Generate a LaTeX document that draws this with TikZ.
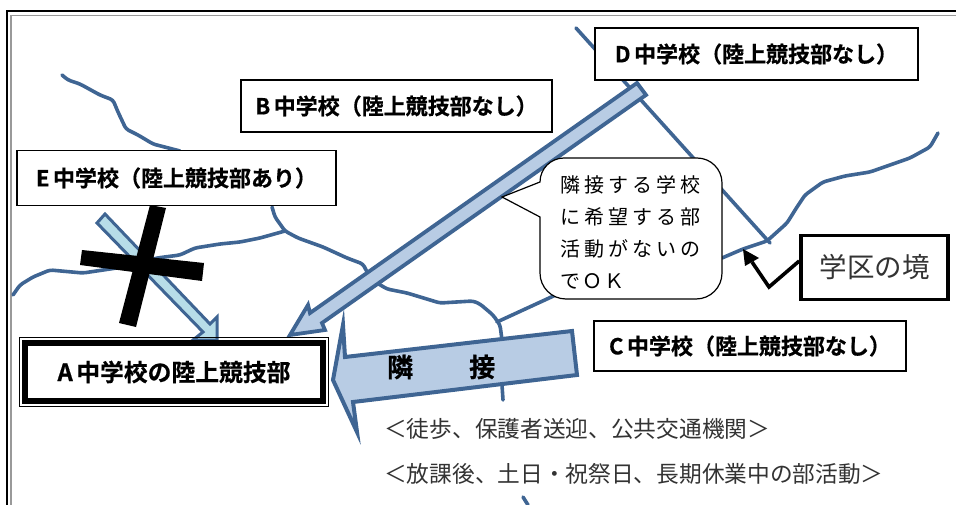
\documentclass[tikz,border=0pt]{standalone}
\usepackage{fontspec}
\setmainfont{Noto Sans CJK JP}[BoldFont={Noto Sans CJK JP Bold}]
\newfontfamily\heavyfont{Noto Sans CJK JP Bold}[FakeBold=0.6]
\definecolor{riverblue}{HTML}{3F6593}
\definecolor{arrowfill}{HTML}{B8CCE4}
\definecolor{thinfill}{HTML}{B7DDE8}
\newcommand{\latingap}{\hspace{3.5pt}}
\tikzset{
  river/.style={draw=riverblue, line width=3.6pt, line join=round, line cap=round, rounded corners=3pt},
  blockarrow/.style={draw=riverblue, line width=3.8pt, fill=arrowfill, line join=miter},
  schoolbox/.style={draw=black, line width=1.4pt, fill=white, inner sep=0pt, font=\heavyfont\fontsize{22}{24}\selectfont},
  crossbar/.style={fill=black, draw=none},
  plainline/.style={font=\fontsize{22.7}{26}\selectfont, text=black!80, anchor=west, inner sep=0pt},
  calloutline/.style={anchor=west, inner sep=0pt, font=\fontsize{20}{24}\selectfont\addfontfeature{LetterSpace=20}}
}
\begin{document}
\begin{tikzpicture}[x=1pt,y=-1pt]
\useasboundingbox (0,0) rectangle (956,505);

% Draw the outer frame
\draw[black, line width=1.3pt] (956,11) -- (7,11) -- (7,505);
\draw[black!40, line width=1.4pt] (956,15.5) -- (11,15.5) -- (11,505);

% Draw the rivers and the boundaries
\draw[river] (62,75) -- (68,80) -- (80,84) -- (100,95) -- (113,100) -- (118,112) -- (126,129) -- (138,135) -- (153,144) -- (180,151);
\draw[river] (272,207) -- (275,217) -- (285,231) -- (298,238) -- (323,247) -- (347,258) -- (363,264) -- (367,272) -- (377,283) -- (387,289) -- (407,293) -- (440,303) -- (473,301) -- (480,304) -- (493,315) -- (500,325) -- (502,340);
\draw[river] (502,385) -- (503,400);
\draw[river] (523,497) -- (528,505);
\draw[river] (285,231) -- (260,238) -- (240,242) -- (220,244) -- (195,248) -- (180,255) -- (157,258) -- (130,266) -- (83,273) -- (50,270) -- (33,277) -- (20,285) -- (13,295);
\draw[river] (497,322) -- (560,293);
\draw[river] (722,258) -- (743,249) -- (767,241) -- (787,223) -- (797,207) -- (805,195) -- (823,182) -- (845,176) -- (870,172) -- (890,165) -- (910,158) -- (930,147) -- (938,133);
\draw[river, rounded corners=0pt] (576,28) -- (770,243);

% Draw the block arrows
\draw[blockarrow, line width=3pt, fill=thinfill] (97,223) -- (105,214) -- (210,324) -- (217,317) -- (217,340) -- (193,340) -- (203,332) -- cycle;
\draw[blockarrow] (637,83) -- (646,95) -- (322,323) -- (325,330) -- (290,335) -- (308,305) -- (310,313) -- cycle;
\draw[blockarrow, line width=4pt] (572,331) -- (577,375) -- (353,402) -- (357,432) -- (333,380) -- (343,325) -- (345,357) -- cycle;
\node[font=\heavyfont\fontsize{26}{28}\selectfont, anchor=west, inner sep=0pt] (rinsetsu) at (387,367) {隣\hspace{56pt}接};

% Draw the cross
\fill[crossbar] (150,205) -- (166,208) -- (136,327) -- (119,323) -- cycle;
\fill[crossbar] (82,250) -- (204,263) -- (202,281) -- (80,265) -- cycle;

% Draw the school boxes
\node[schoolbox, minimum width=323pt, minimum height=52pt] (dschool) at (756.5,54) {D\latingap 中学校（陸上競技部なし）};
\node[schoolbox, minimum width=311pt, minimum height=52pt] (bschool) at (396.5,106) {B\latingap 中学校（陸上競技部なし）};
\node[schoolbox, minimum width=319pt, minimum height=55pt] (eschool) at (176.5,178) {E\latingap 中学校（陸上競技部あり）};
\node[schoolbox, minimum width=312pt, minimum height=50pt] (cschool) at (750,346) {C\latingap 中学校（陸上競技部なし）};
\node[draw=black, line width=1.1pt, minimum width=309pt, minimum height=69pt, inner sep=0pt] (aframe) at (174,372) {};
\node[draw=black, line width=6pt, fill=white, minimum width=298pt, minimum height=58pt, inner sep=0pt, font=\heavyfont\fontsize{23.8}{26}\selectfont] (aschool) at (174,372) {A\latingap 中学校の陸上競技部};

% Draw the callout
\draw[black, line width=1.2pt, fill=white] (566,158) -- (697,158) arc[start angle=-90, end angle=0, radius=25] -- (722,273) arc[start angle=0, end angle=90, radius=26] -- (566,299) arc[start angle=90, end angle=180, radius=26] -- (540,217) -- (502,197) -- (540,182) arc[start angle=180, end angle=270, radius=24] -- cycle;
\node[calloutline] (callone) at (560,185) {隣接する学校};
\node[calloutline] (calltwo) at (560,217) {に希望する部};
\node[calloutline] (callthree) at (560,249) {活動がないの};
\node[calloutline, font=\fontsize{20}{24}\selectfont\addfontfeature{LetterSpace=10}] (callfour) at (560,281) {でＯＫ};

% Draw the boundary label and its arrow
\node[draw=black, line width=3.6pt, fill=white, minimum width=147pt, minimum height=64pt, inner sep=0pt, font=\fontsize{27.5}{30}\selectfont, text=black!80] (boundary) at (874.5,267.5) {学区の境};
\coordinate (elbow) at (769,287);
\coordinate (boundtip) at (743,249);
\draw[black, line width=3.6pt, line join=miter] (boundary.west |- 0,261) -- (elbow) -- (752,262);
\fill[black] (boundtip) -- (759,258) -- (745,266) -- cycle;

% Draw the two condition lines
\node[plainline] (lineone) at (384,429) {＜徒歩、保護者送迎、公共交通機関＞};
\node[plainline] (linetwo) at (384,474) {＜放課後、土日・祝祭日、長期休業中の部活動＞};
\end{tikzpicture}
\end{document}
